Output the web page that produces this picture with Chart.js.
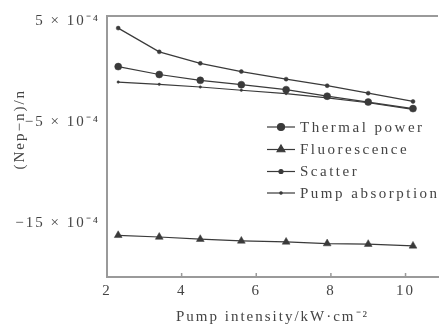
<!DOCTYPE html>
<html>
<head>
<meta charset="utf-8">
<script src="https://cdn.jsdelivr.net/npm/chart.js@4"></script>
<style>
  html, body { margin: 0; background: #fff; }
  #wrap { width: 443px; height: 329px; }
</style>
</head>
<body>
<div id="wrap"><canvas id="chart"></canvas></div>
<script>
// values on the y axis are in units of 10^-4
const intensity = [2.3, 3.4, 4.5, 5.6, 6.8, 7.9, 9.0, 10.2];
const thermalPower = [0.53, -0.25, -0.83, -1.26, -1.75, -2.40, -2.98, -3.63];
const fluorescence = [-16.17, -16.34, -16.56, -16.73, -16.83, -16.99, -17.05, -17.22];
const scatter = [4.34, 1.99, 0.85, 0.04, -0.71, -1.36, -2.10, -2.92];
const pumpAbsorption = [-1.0, -1.22, -1.49, -1.81, -2.14, -2.56, -3.05, -3.70];
const seriesNames = ['Thermal power', 'Fluorescence', 'Scatter', 'Pump absorption'];
const xTicks = [2, 4, 6, 8, 10];
const yTicks = [5, -5, -15];

const ink = '#3a3a3a';
const axisGray = '#9a9a9a';
const font = 'Liberation Serif';

function series(label, values, style, radius) {
  return {
    label,
    data: values.map((v, i) => ({ x: intensity[i], y: v })),
    borderColor: ink,
    backgroundColor: ink,
    borderWidth: 1.2,
    pointStyle: style,
    pointRadius: radius,
    pointBorderWidth: 0.5,
    tension: 0,
    clip: false
  };
}

// frame top line, inner ticks and the legend inside the plot
const extras = {
  id: 'extras',
  beforeDraw(chart) {
    chart.ctx.letterSpacing = '2px';
  },
  afterDraw(chart) {
    const { ctx, chartArea: a, scales } = chart;
    ctx.save();
    ctx.strokeStyle = axisGray;
    ctx.lineWidth = 2;
    ctx.beginPath();
    ctx.moveTo(a.left - 1, a.top);
    ctx.lineTo(a.right, a.top);
    ctx.stroke();

    ctx.lineWidth = 1.5;
    ctx.beginPath();
    xTicks.slice(1).forEach(v => {
      const px = scales.x.getPixelForValue(v);
      ctx.moveTo(px, a.bottom);
      ctx.lineTo(px, a.bottom - 4);
    });
    ctx.stroke();

    // legend
    const rows = [127, 149.5, 171.5, 193];
    ctx.letterSpacing = '2.5px';
    ctx.font = '15px "' + font + '"';
    ctx.textBaseline = 'middle';
    ctx.textAlign = 'left';
    chart.data.datasets.forEach((ds, i) => {
      const y = rows[i];
      ctx.strokeStyle = ink;
      ctx.fillStyle = ink;
      ctx.lineWidth = 1.2;
      ctx.beginPath();
      ctx.moveTo(267, y);
      ctx.lineTo(295, y);
      ctx.stroke();
      Chart.helpers.drawPoint(ctx, {
        pointStyle: ds.pointStyle,
        radius: ds.pointRadius,
        rotation: 0,
        borderWidth: 0.5
      }, 281, y);
      ctx.fillStyle = '#444';
      ctx.fillText(ds.label, 300, y + 1);
    });
    ctx.restore();
  }
};

new Chart(document.getElementById('chart'), {
  type: 'line',
  data: {
    datasets: [
      series(seriesNames[0], thermalPower, 'circle', 3.5),
      series(seriesNames[1], fluorescence, 'triangle', 4.5),
      series(seriesNames[2], scatter, 'circle', 2),
      series(seriesNames[3], pumpAbsorption, 'circle', 1.2)
    ]
  },
  options: {
    responsive: true,
    maintainAspectRatio: false,
    animation: false,
    layout: { padding: { top: 12, right: 0, left: 0, bottom: 0 } },
    plugins: {
      legend: { display: false },
      tooltip: { enabled: false }
    },
    scales: {
      x: {
        type: 'linear',
        min: 2,
        max: 10.87,
        afterBuildTicks: s => { s.ticks = xTicks.map(v => ({ value: v })); },
        afterFit: s => { s.height = 52; },
        grid: { drawOnChartArea: false, drawTicks: false },
        border: { color: axisGray, width: 2 },
        ticks: {
          padding: 5,
          color: '#444',
          font: { family: font, size: 15 },
          maxRotation: 0
        },
        title: {
          display: true,
          text: 'Pump intensity/kW·cm⁻²',
          color: '#444',
          font: { family: font, size: 15 },
          padding: { top: 0, bottom: 3 }
        }
      },
      y: {
        min: -20.3,
        max: 5.54,
        afterBuildTicks: s => { s.ticks = yTicks.map(v => ({ value: v })); },
        afterFit: s => { s.width = 107; },
        grid: { drawOnChartArea: false, drawTicks: false },
        border: { color: axisGray, width: 2 },
        ticks: {
          padding: 7,
          color: '#444',
          font: { family: font, size: 15 },
          callback: v => (v < 0 ? '−' : '') + Math.abs(v) + ' × 10⁻⁴'
        },
        title: {
          display: true,
          text: '\u00a0\u00a0\u00a0\u00a0\u00a0\u00a0(Nep−n)/n',
          color: '#444',
          font: { family: font, size: 15 },
          padding: { top: 11, bottom: 0 }
        }
      }
    }
  },
  plugins: [extras]
});
</script>
</body>
</html>
